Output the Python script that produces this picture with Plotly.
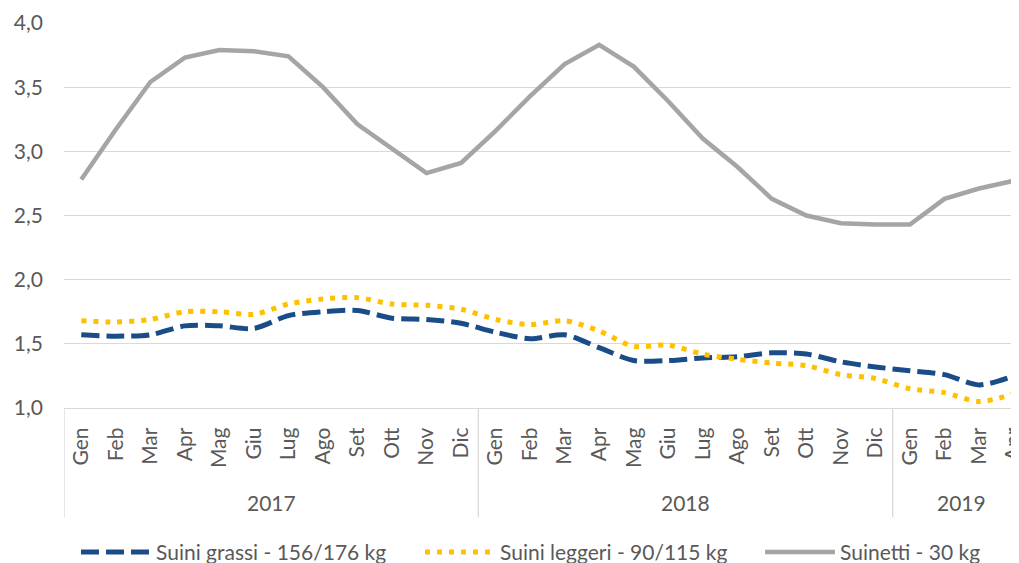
import plotly.graph_objects as go

months = ["Gen", "Feb", "Mar", "Apr", "Mag", "Giu", "Lug", "Ago", "Set", "Ott", "Nov", "Dic",
          "Gen", "Feb", "Mar", "Apr", "Mag", "Giu", "Lug", "Ago", "Set", "Ott", "Nov", "Dic",
          "Gen", "Feb", "Mar", "Apr"]
years = ["2017"] * 12 + ["2018"] * 12 + ["2019"] * 4

suini_grassi = [1.57, 1.56, 1.57, 1.64, 1.64, 1.62, 1.72, 1.75, 1.76, 1.70, 1.69, 1.66,
                1.59, 1.54, 1.57, 1.47, 1.37, 1.37, 1.39, 1.40, 1.43, 1.42, 1.36, 1.32,
                1.29, 1.26, 1.18, 1.25]
suini_leggeri = [1.68, 1.67, 1.69, 1.75, 1.75, 1.73, 1.81, 1.85, 1.86, 1.81, 1.80, 1.77,
                 1.69, 1.65, 1.68, 1.60, 1.48, 1.49, 1.42, 1.38, 1.35, 1.33, 1.26, 1.23,
                 1.15, 1.12, 1.05, 1.11]
suinetti = [2.78, 3.17, 3.54, 3.73, 3.79, 3.78, 3.74, 3.50, 3.21, 3.02, 2.83, 2.91,
            3.16, 3.43, 3.68, 3.83, 3.66, 3.39, 3.10, 2.88, 2.63, 2.50, 2.44, 2.43,
            2.43, 2.63, 2.71, 2.77]

FONT = "Lato, Carlito, Calibri, sans-serif"
TXT = "#595959"
GRID = "#D9D9D9"

xs = list(range(len(months)))

fig = go.Figure()
fig.add_trace(go.Scatter(x=xs, y=suini_grassi, mode="lines", name="Suini grassi - 156/176 kg",
                         legend="legend",
                         line=dict(color="#1A4C88", width=5, dash="18px,7px", shape="spline", smoothing=0.8)))
fig.add_trace(go.Scatter(x=xs, y=suini_leggeri, mode="lines", name="Suini leggeri - 90/115 kg",
                         legend="legend2",
                         line=dict(color="#FFC000", width=5, dash="5px,7px", shape="spline", smoothing=0.8)))
fig.add_trace(go.Scatter(x=xs, y=suinetti, mode="lines", name="Suinetti - 30 kg",
                         legend="legend3",
                         line=dict(color="#A5A5A5", width=4.5)))

# year groups: dividers and labels
groups = []
start = 0
for i in range(1, len(years) + 1):
    if i == len(years) or years[i] != years[start]:
        groups.append((years[start], start, i - 1))
        start = i

shapes = []
annotations = []
for name, a, b in groups:
    shapes.append(dict(type="line", xref="x", yref="paper", x0=a - 0.5, x1=a - 0.5,
                       y0=0, y1=-0.2836, line=dict(color=GRID, width=1.3)))
    annotations.append(dict(text=name, x=(a + b) / 2, xref="x", y=-0.2445, yref="paper",
                            showarrow=False, yanchor="middle", xanchor="center",
                            font=dict(family=FONT, size=21, color=TXT)))
shapes.append(dict(type="line", xref="x", yref="paper", x0=len(years) - 0.5, x1=len(years) - 0.5,
                   y0=0, y1=-0.2836, line=dict(color=GRID, width=1.3)))

def leg(xpx):
    return dict(orientation="h", yref="container", y=0.033, yanchor="middle",
                xref="container", x=xpx / 1019, xanchor="left", itemwidth=70,
                font=dict(family=FONT, size=21, color=TXT), bgcolor="rgba(0,0,0,0)")

fig.update_layout(
    width=1019, height=563,
    margin=dict(l=56, r=0, t=15, b=163, autoexpand=False),
    paper_bgcolor="white", plot_bgcolor="white",
    separators=",.",
    font=dict(family=FONT, size=21, color=TXT),
    showlegend=True,
    legend=leg(68), legend2=leg(412), legend3=leg(752),
    shapes=shapes,
    annotations=annotations,
)
fig.update_xaxes(range=[-0.5, 27.39], tickmode="array", tickvals=xs, ticktext=months,
                 tickangle=-90, showgrid=False, zeroline=False, showline=True,
                 linecolor=GRID, linewidth=1.3, ticks="", ticklabelstandoff=10,
                 ticklabeloverflow="allow", automargin=False,
                 tickfont=dict(family=FONT, size=21, color=TXT))
fig.update_yaxes(range=[1, 4], dtick=0.5, tick0=1, tickformat=".1f", showgrid=True,
                 gridcolor=GRID, gridwidth=1.3, zeroline=False, showline=False, ticks="",
                 ticklabelstandoff=20, automargin=False, ticklabeloverflow="allow",
                 tickfont=dict(family=FONT, size=21, color=TXT))

fig.write_html("out.html")
